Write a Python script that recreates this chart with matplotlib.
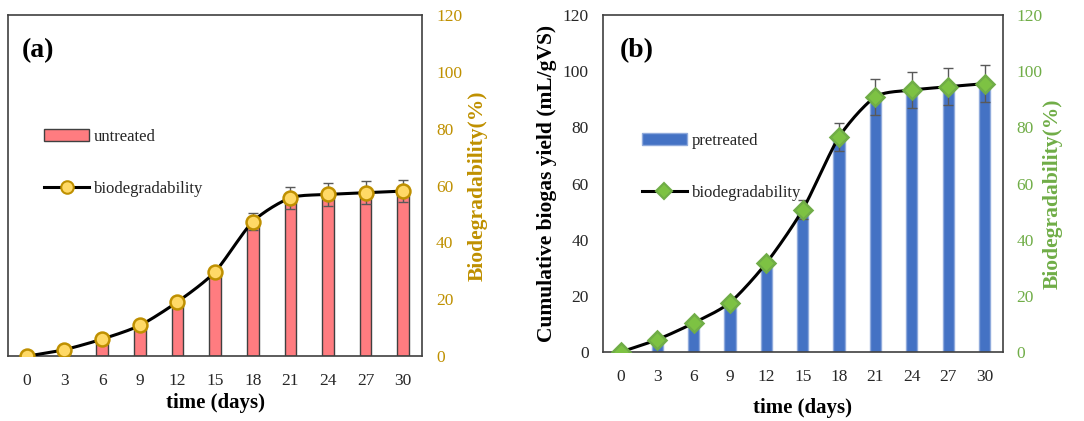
import matplotlib.pyplot as plt
from matplotlib.lines import Line2D
from matplotlib.patches import Patch
import numpy as np

# ---------------- data ----------------
days = ['0', '3', '6', '9', '12', '15', '18', '21', '24', '27', '30']
yticks = [0, 20, 40, 60, 80, 100, 120]

untreated_yield = [0, 2.3, 6.0, 10.8, 19.1, 29.7, 47.3, 55.7, 56.9, 57.5, 58.1]
untreated_err = [0, 0.3, 0.5, 0.8, 1.0, 1.5, 3.0, 4.0, 4.0, 4.0, 4.0]
untreated_biodeg = [0, 2.3, 6.0, 10.8, 19.1, 29.7, 47.3, 55.7, 56.9, 57.5, 58.1]

pretreated_yield = [0, 4.4, 10.3, 17.6, 31.7, 50.7, 76.6, 90.9, 93.3, 94.5, 95.6]
pretreated_err = [0, 0.4, 0.6, 0.8, 1.2, 3.5, 5.0, 6.4, 6.5, 6.5, 6.6]
pretreated_biodeg = [0, 4.4, 10.3, 17.6, 31.7, 50.7, 76.6, 90.9, 93.3, 94.5, 95.6]

plt.rcParams['font.family'] = ['Liberation Serif', 'DejaVu Serif']

GOLD = '#BF9000'
GREEN = '#70AD47'
TXT = '#262626'
SPINE = '#404040'


def smooth(xs, ys, n=24, k=0.75):
    """Cardinal-spline curve through the given points, for drawing a smoothed line."""
    xs = np.asarray(xs, float)
    ys = np.asarray(ys, float)
    P = np.column_stack([xs, ys])
    m = len(P)
    T = np.zeros_like(P)
    for i in range(m):
        a = P[max(i - 1, 0)]
        b = P[min(i + 1, m - 1)]
        T[i] = k * 0.5 * (b - a) * (2.0 if (i == 0 or i == m - 1) else 1.0)
    out = []
    t = np.linspace(0, 1, n)[:, None]
    h00 = 2 * t ** 3 - 3 * t ** 2 + 1
    h10 = t ** 3 - 2 * t ** 2 + t
    h01 = -2 * t ** 3 + 3 * t ** 2
    h11 = t ** 3 - t ** 2
    for i in range(m - 1):
        seg = h00 * P[i] + h10 * T[i] + h01 * P[i + 1] + h11 * T[i + 1]
        out.append(seg if i == 0 else seg[1:])
    out = np.vstack(out)
    return out[:, 0], out[:, 1]


def panel(rect, yields, errs, biodeg, bar_color, bar_edge, mk, mk_face, mk_edge,
          right_color, label, tag, show_left, leg_xy, tag_y, xlabel_y, rlabel_xy, ms):
    ax = fig.add_axes(rect)
    x = np.arange(len(days))
    ax.bar(x, yields, width=0.31, color=bar_color, edgecolor=bar_edge, linewidth=1.0, zorder=2)
    ax.errorbar(x, yields, yerr=errs, fmt='none', ecolor='#595959', elinewidth=1.0,
                capsize=3.5, capthick=1.0, zorder=3)
    ax.set_xlim(-0.5, len(days) - 0.5)
    ax.set_ylim(0, 120)
    ax.set_yticks(yticks)
    ax.set_xticks(x)
    ax.set_xticklabels(days)
    ax.tick_params(axis='both', length=0, labelsize=12.5, colors=TXT)
    ax.tick_params(axis='x', pad=12)
    ax.tick_params(axis='y', pad=10)
    if not show_left:
        ax.set_yticklabels([])
    else:
        ax.set_ylabel('Cumulative biogas yield (mL/gVS)', fontsize=15.5, fontweight='bold',
                      color='black')
        ax.yaxis.set_label_coords(-0.115, 0.5)
    for s in ax.spines.values():
        s.set_color(SPINE)
        s.set_linewidth(1.2)
    ax.set_xlabel('time (days)', fontsize=15, fontweight='bold', color='black')
    ax.xaxis.set_label_coords(0.5, xlabel_y)

    ax2 = ax.twinx()
    ax2.set_ylim(0, 120)
    ax2.set_yticks(yticks)
    ax2.tick_params(axis='y', length=0, labelsize=12.5, colors=right_color, pad=10)
    for s in ax2.spines.values():
        s.set_visible(False)
    sx, sy = smooth(x, biodeg)
    ax2.plot(sx, sy, color='black', linewidth=2.2, zorder=4, solid_capstyle='round')
    ax2.plot(x, biodeg, linestyle='none', marker=mk, markersize=ms, markerfacecolor=mk_face,
             markeredgecolor=mk_edge, markeredgewidth=1.8, zorder=5)
    ax2.set_ylabel('Biodegradability(%)', fontsize=15.5, fontweight='bold', color=right_color)
    ax2.yaxis.set_label_coords(*rlabel_xy)

    ax.text(leg_xy[0] - 0.055, tag_y, tag, transform=ax.transAxes, fontsize=20,
            fontweight='bold', va='center', ha='left', color='black')

    handles = [Patch(facecolor=bar_color, edgecolor=bar_edge, linewidth=1.0),
               Line2D([0], [0], color='black', linewidth=2.2, marker=mk, markersize=ms * 0.9,
                      markerfacecolor=mk_face, markeredgecolor=mk_edge, markeredgewidth=1.5)]
    leg = ax.legend(handles, [label, 'biodegradability'], loc='upper left',
                    bbox_to_anchor=leg_xy, bbox_transform=ax.transAxes, frameon=False,
                    fontsize=12, handlelength=2.7, handletextpad=0.3, labelspacing=2.15,
                    borderpad=0, borderaxespad=0)
    for t in leg.get_texts():
        t.set_color(TXT)
    return ax, ax2


fig = plt.figure(figsize=(10.84, 4.21), dpi=100)

panel([0.0074, 0.154, 0.382, 0.810], untreated_yield, untreated_err, untreated_biodeg,
      '#FF7C80', '#404040', 'o', '#FFD966', GOLD, GOLD, 'untreated', '(a)', False,
      (0.087, 0.667), 0.897, -0.108, (1.111, 0.5), 10)

panel([0.556, 0.164, 0.369, 0.800], pretreated_yield, pretreated_err, pretreated_biodeg,
      '#4472C4', '#8FAADC', 'D', '#7DC243', GREEN, GREEN, 'pretreated', '(b)', True,
      (0.0975, 0.65), 0.896, -0.137, (1.10, 0.47), 9)

fig.savefig('out.png', dpi=100)
